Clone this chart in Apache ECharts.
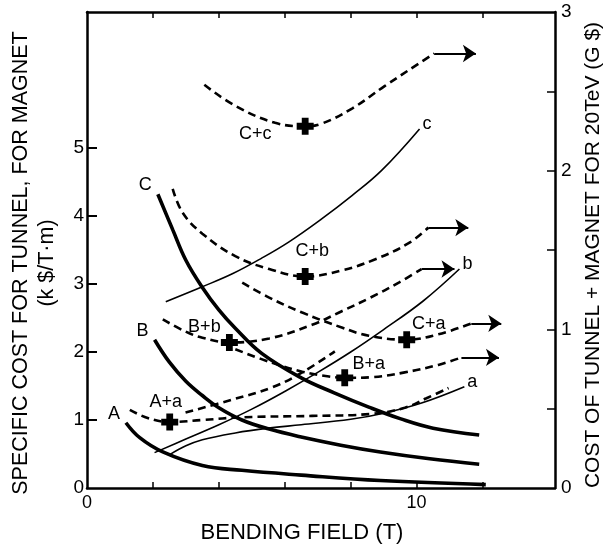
<!DOCTYPE html>
<html>
<head>
<meta charset="utf-8">
<script src="https://cdn.jsdelivr.net/npm/echarts@6/dist/echarts.min.js"></script>
<style>
  html, body { margin: 0; padding: 0; background: #fff; }
  #chart { width: 615px; height: 551px; }
</style>
</head>
<body>
<div id="chart"></div>
<script>
  // bending field (T) -> specific cost (k$/T.m)
  var tunnelA = [[1.18, 0.96], [1.6, 0.74], [2.3, 0.53], [3.5, 0.33], [4.7, 0.26], [6.5, 0.19], [8.9, 0.11], [12.1, 0.05]]
  var tunnelB = [[2.05, 2.18], [2.5, 1.85], [3.0, 1.57], [3.5, 1.36], [4.0, 1.18], [4.7, 1.0], [5.5, 0.87], [6.5, 0.75], [7.7, 0.63], [8.9, 0.53], [10.4, 0.43], [11.9, 0.35]]
  var tunnelC = [[2.15, 4.32], [2.6, 3.8], [3.0, 3.35], [3.5, 2.95], [4.0, 2.62], [4.5, 2.35], [5.3, 1.98], [6.5, 1.62], [7.5, 1.4], [8.55, 1.19], [9.5, 1.02], [10.5, 0.88], [11.9, 0.78]]

  var magnetA = [[2.51, 0.49], [3.0, 0.62], [3.5, 0.71], [4.5, 0.81], [5.5, 0.88], [6.5, 0.93], [8, 1.01], [9, 1.1], [10.15, 1.25], [11.45, 1.49]]
  var magnetB = [[2.05, 0.52], [3.0, 0.72], [4.0, 0.93], [5.0, 1.16], [6.0, 1.42], [7.0, 1.7], [8.0, 2.0], [9.0, 2.33], [10.2, 2.75], [11.3, 3.22]]
  var magnetC = [[2.39, 2.74], [3.5, 2.96], [4.41, 3.15], [5.3, 3.38], [6.13, 3.62], [7.1, 3.95], [8.04, 4.3], [8.94, 4.67], [10.09, 5.28]]

  var sumAa = [[1.3, 1.15], [1.84, 1.03], [2.51, 0.97], [3.5, 1.0], [4.71, 1.04], [6.83, 1.06], [8.64, 1.09], [9.64, 1.18], [10.3, 1.32], [10.97, 1.47]]
  var sumAb = [[2.99, 1.11], [4.41, 1.3], [5.62, 1.48], [6.53, 1.7], [7.52, 2.01]]
  var sumBa = [[4.5, 2.04], [5.62, 1.84], [6.53, 1.71], [7.34, 1.64], [7.82, 1.62], [8.64, 1.63], [9.64, 1.7], [10.66, 1.81], [11.36, 1.92]]
  var sumBb = [[2.3, 2.48], [2.99, 2.3], [3.5, 2.21], [4.32, 2.14], [5.53, 2.2], [6.83, 2.4], [7.73, 2.6], [8.6, 2.8], [9.46, 3.02], [10.15, 3.22]]
  var sumCa = [[4.71, 3.02], [5.53, 2.8], [6.53, 2.58], [7.73, 2.36], [8.55, 2.24], [9.7, 2.18], [10.66, 2.26], [11.66, 2.42]]
  var sumCb = [[2.6, 4.4], [2.9, 4.05], [3.5, 3.74], [4.5, 3.41], [5.53, 3.22], [6.62, 3.11], [7.73, 3.2], [8.73, 3.36], [9.76, 3.6], [10.36, 3.83]]
  var sumCc = [[3.56, 5.93], [4.5, 5.62], [5.71, 5.37], [6.62, 5.32], [7.13, 5.36], [8.04, 5.58], [9.03, 5.91], [10.06, 6.24], [10.54, 6.39]]

  // minimum of each sum curve (the crosses)
  var minLabels = ['C+c', 'C+b', 'C+a', 'B+b', 'B+a', 'A+a']
  var minPoints = [[6.62, 5.32], [6.62, 3.11], [9.7, 2.18], [4.32, 2.14], [7.82, 1.62], [2.51, 0.97]]

  // "goes on" arrows: [from x, to x, y]
  var arrows = { Cc: [10.54, 11.8, 6.39], Cb: [10.36, 11.57, 3.83], Bb: [10.15, 11.15, 3.22], Ca: [11.66, 12.57, 2.42], Ba: [11.36, 12.5, 1.92] }

  var xTickLabels = [0, 10]
  var xTicks = [2, 4, 6, 8, 10, 12]
  var leftTickLabels = [0, 1, 2, 3, 4, 5]
  var leftTicks = [1, 2, 3, 4, 5]
  var rightTickLabels = [0, 1, 2, 3]
  var rightTicks = [0.5, 1, 1.5, 2, 2.5]

  var FONT = 'Liberation Sans'
  var INK = '#000'

  var labelOffsets = {
    'C+c': [-50, 8], 'C+b': [7, -25], 'C+a': [22, -16],
    'B+b': [-25, -15], 'B+a': [24, -14], 'A+a': [-4, -20]
  }

  function thick (name, data) {
    return { name: name, type: 'line', smooth: 0.4, symbol: 'none', data: data,
      lineStyle: { color: INK, width: 3.6 }, z: 3, animation: false,
      markPoint: {
        symbol: 'circle', symbolSize: 0, silent: true, animation: false,
        label: { show: true, formatter: name, position: 'left', offset: [-1, -9], fontSize: 18, color: INK, fontFamily: FONT },
        data: [{ coord: data[0] }]
      } }
  }

  function thin (name, data) {
    return { name: name, type: 'line', smooth: 0.4, symbol: 'none', data: data,
      lineStyle: { color: INK, width: 1.6 },
      endLabel: { show: true, formatter: name, color: INK, fontSize: 18, fontFamily: FONT, distance: 3, offset: [0, -5] },
      animation: false }
  }

  function dashed (name, data, arrow) {
    var s = { name: name, type: 'line', smooth: 0.4, symbol: 'none', data: data,
      lineStyle: { color: INK, width: 2.6, type: [8, 5] }, animation: false }
    if (arrow) {
      s.markLine = {
        silent: true, animation: false, symbol: ['none', 'arrow'], symbolSize: 13,
        label: { show: false },
        lineStyle: { color: INK, width: 2, type: 'solid' },
        data: [[{ coord: [arrow[0], arrow[2]] }, { coord: [arrow[1], arrow[2]] }]]
      }
    }
    return s
  }

  var chart = echarts.init(document.getElementById('chart'))

  chart.setOption({
    backgroundColor: '#fff',
    textStyle: { fontFamily: FONT, color: INK },
    grid: { left: 84, right: 60, top: 12, bottom: 63, containLabel: false },
    xAxis: [{
      type: 'value', min: 0, max: 14.2, interval: 2, position: 'bottom',
      name: 'BENDING FIELD (T)', nameLocation: 'middle', nameGap: 34,
      nameTextStyle: { fontSize: 22, color: INK, fontFamily: FONT, padding: [0, 38, 0, 0] },
      axisLine: { show: true, onZero: false, lineStyle: { color: INK, width: 2.5 } },
      axisTick: { inside: true, length: 6, customValues: xTicks, lineStyle: { color: INK, width: 1.5 } },
      axisLabel: { customValues: xTickLabels, fontSize: 18, color: INK, margin: 6 },
      splitLine: { show: false }
    }, {
      type: 'value', min: 0, max: 14.2, interval: 2, position: 'top',
      axisLine: { show: true, onZero: false, lineStyle: { color: INK, width: 2.5 } },
      axisTick: { inside: true, length: 6, customValues: xTicks, lineStyle: { color: INK, width: 1.5 } },
      axisLabel: { show: false },
      splitLine: { show: false }
    }],
    yAxis: [{
      type: 'value', min: 0, max: 7, interval: 1, position: 'left',
      name: 'SPECIFIC COST FOR TUNNEL, FOR MAGNET\n(k $/T\u00b7m)',
      nameLocation: 'middle', nameRotate: 90, nameGap: 27,
      nameTextStyle: { fontSize: 21.5, color: INK, fontFamily: FONT, lineHeight: 26, padding: [0, 26, 0, 0] },
      axisLine: { show: true, onZero: false, lineStyle: { color: INK, width: 2.5 } },
      axisTick: { inside: true, length: 10, customValues: leftTicks, lineStyle: { color: INK, width: 2 } },
      axisLabel: { customValues: leftTickLabels, fontSize: 19, color: INK, margin: 3 },
      splitLine: { show: false }
    }, {
      type: 'value', min: 0, max: 3, interval: 0.5, position: 'right',
      name: 'COST OF TUNNEL + MAGNET FOR 20TeV (G $)',
      nameLocation: 'middle', nameRotate: 90, nameGap: 23,
      nameTextStyle: { fontSize: 21, color: INK, fontFamily: FONT, padding: [0, 10, 0, 0] },
      axisLine: { show: true, onZero: false, lineStyle: { color: INK, width: 2.5 } },
      axisTick: { inside: true, length: 8, customValues: rightTicks, lineStyle: { color: INK, width: 1.5 } },
      axisLabel: { customValues: rightTickLabels, fontSize: 19, color: INK, margin: 6 },
      splitLine: { show: false }
    }],
    series: [
      thick('A', tunnelA), thick('B', tunnelB), thick('C', tunnelC),
      thin('a', magnetA), thin('b', magnetB), thin('c', magnetC),
      dashed('A+a', sumAa), dashed('A+b', sumAb),
      dashed('B+a', sumBa, arrows.Ba), dashed('B+b', sumBb, arrows.Bb),
      dashed('C+a', sumCa, arrows.Ca), dashed('C+b', sumCb, arrows.Cb), dashed('C+c', sumCc, arrows.Cc),
      {
        name: 'minimum', type: 'scatter', z: 5, animation: false,
        symbol: 'path://M3,0H7V3H10V7H7V10H3V7H0V3H3Z', symbolSize: 17,
        itemStyle: { color: INK, opacity: 1 },
        data: minPoints.map(function (p, i) {
          var lab = minLabels[i]
          return { value: p, label: { show: true, formatter: lab, position: 'inside', offset: labelOffsets[lab], fontSize: 18, color: INK, fontFamily: FONT } }
        })
      }
    ]
  })
</script>
</body>
</html>
